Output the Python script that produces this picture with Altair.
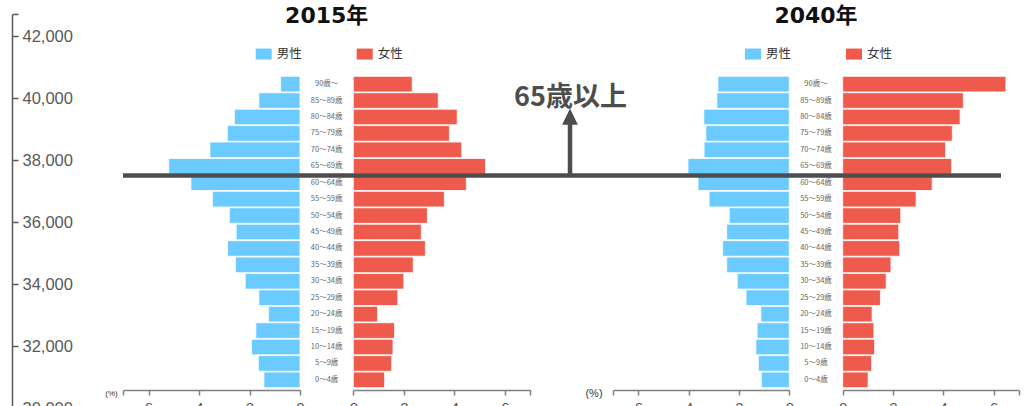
import altair as alt
import pandas as pd

# ---------------- data ----------------
AGES = ["0～4歳", "5～9歳", "10～14歳", "15～19歳", "20～24歳", "25～29歳",
        "30～34歳", "35～39歳", "40～44歳", "45～49歳", "50～54歳", "55～59歳",
        "60～64歳", "65～69歳", "70～74歳", "75～79歳", "80～84歳", "85～89歳",
        "90歳～"]
MALE_2015 = [1.43, 1.65, 1.92, 1.75, 1.25, 1.63, 2.17, 2.56, 2.87, 2.53,
             2.80, 3.47, 4.32, 5.20, 3.57, 2.88, 2.60, 1.63, 0.77]
FEMALE_2015 = [1.24, 1.52, 1.57, 1.63, 0.96, 1.76, 2.00, 2.37, 2.85, 2.69,
               2.93, 3.60, 4.47, 5.23, 4.29, 3.80, 4.11, 3.36, 2.33]
MALE_2040 = [1.11, 1.23, 1.33, 1.28, 1.13, 1.72, 2.07, 2.49, 2.65, 2.49,
             2.39, 3.19, 3.63, 4.03, 3.39, 3.32, 3.40, 2.88, 2.84]
FEMALE_2040 = [1.01, 1.15, 1.27, 1.24, 1.17, 1.50, 1.73, 1.92, 2.27, 2.23,
               2.31, 2.92, 3.56, 4.33, 4.09, 4.36, 4.67, 4.80, 6.49]
SEXES = ["男性", "女性"]
YEARS = ["2015年", "2040年"]
PCT_TICKS = [0, 2, 4, 6]
LEFT_TICKS = [30000, 32000, 34000, 36000, 38000, 40000, 42000]
SENIOR_LABEL = "65歳以上"
SENIOR_LINE = 37500
ARROW_SHAFT_TOP = 39300
ARROW_HEAD = 39394
SENIOR_TEXT_AT = 40000
PCT_UNIT = "(%)"

# ---------------- styles / layout ----------------
BLUE = "#6CCBFE"
RED = "#EE5B4C"
DARK = "#4D4D4D"
AXIS_GRAY = "#595959"
JP = "Noto Sans CJK JP"
L = 12  # left padding: the left axis line sits at the plot's left edge

rows = []
for year, male, female in [(YEARS[0], MALE_2015, FEMALE_2015),
                           (YEARS[1], MALE_2040, FEMALE_2040)]:
    for age, m, f in zip(AGES, male, female):
        rows.append({"year": year, "sex": SEXES[0], "age": age, "value": m})
        rows.append({"year": year, "sex": SEXES[1], "age": age, "value": f})
df = pd.DataFrame(rows)

AGE_ORDER = AGES[::-1]


def pct_axis():
    return alt.Axis(orient="bottom", values=PCT_TICKS + [7],
                    labelExpr="datum.value > 6.5 ? '' : datum.label",
                    title=None, grid=False, domainColor="#7F7F7F", domainWidth=1.5,
                    tickColor="#7F7F7F", tickWidth=1.5, tickSize=5,
                    labelFontSize=15, labelColor=AXIS_GRAY, labelPadding=5,
                    labelFont="Liberation Sans", labelFlush=False, labelOverlap=False)


def pyramid(year, center, male_rng, female_rng, legend_x, pct_x, pct_size):
    base = alt.Chart(df).transform_filter(alt.datum.year == year)
    yenc = alt.Y("age:N", scale=alt.Scale(domain=AGE_ORDER, range=[76, 388],
                                          paddingInner=0.05, paddingOuter=0.02),
                 axis=None)
    color = alt.Color("sex:N", scale=alt.Scale(domain=SEXES, range=[BLUE, RED]),
                      legend=alt.Legend(orient="none", legendX=legend_x - L, legendY=45.8,
                                        direction="horizontal", title=None,
                                        symbolType="M-1,-0.69H1V0.69H-1Z",
                                        symbolSize=256, symbolStrokeWidth=0,
                                        symbolOpacity=1,
                                        labelFontSize=12.5, labelFont=JP,
                                        labelColor="#333333", labelOffset=5,
                                        columnPadding=54, padding=0))

    def half(sex, rng):
        return base.transform_filter(alt.datum.sex == sex).mark_bar(
            stroke="white", strokeWidth=0.8, opacity=1
        ).encode(
            x=alt.X("value:Q", scale=alt.Scale(domain=[0, 7],
                                               range=[rng[0] - L, rng[1] - L],
                                               nice=False, zero=True),
                    axis=pct_axis()),
            y=yenc,
            color=color,
        )

    male = half(SEXES[0], male_rng)
    female = half(SEXES[1], female_rng)
    labels = base.transform_filter(alt.datum.sex == SEXES[0]).mark_text(
        font=JP, fontSize=7.5, color="#666666"
    ).encode(y=yenc, x=alt.value(center - L), text="age:N")
    title = alt.Chart(pd.DataFrame({"t": [year]})).mark_text(
        font="DejaVu Sans, Noto Sans CJK JP", fontSize=22, fontWeight="bold",
        color="#111111"
    ).encode(x=alt.value(center - L), y=alt.value(15.5), text="t:N")
    pct = alt.Chart(pd.DataFrame({"t": [PCT_UNIT]})).mark_text(
        font="Liberation Sans", fontSize=pct_size, color="#333333"
    ).encode(x=alt.value(pct_x - L), y=alt.value(393.5), text="t:N")
    return alt.layer(male, female, labels, title, pct).resolve_scale(x="independent")


p15 = pyramid(YEARS[0], 326.7, [300, 123.3], [353.3, 530.3], 255.7, 111.5, 8)
p40 = pyramid(YEARS[1], 816.0, [789.3, 613.3], [842.7, 1018.7], 745.0, 594.0, 11)


# ------------- left axis + 65歳以上 annotation -------------
def yv():
    return alt.Scale(domain=[28000, 42700], range=[470.0, 14.3], nice=False, zero=False)


left_axis = alt.Axis(orient="left", values=LEFT_TICKS + [42700],
                     labelExpr="datum.value > 42500 ? '' : format(datum.value, ',')",
                     title=None, grid=False, domainColor=AXIS_GRAY, domainWidth=1.5,
                     tickColor=AXIS_GRAY, tickWidth=1.5, tickSize={"expr": "-6"},
                     labelAlign="left", labelPadding=-4,
                     labelFontSize=16.5, labelColor=AXIS_GRAY,
                     labelFont="Liberation Sans", labelOverlap=False, labelFlush=False)

hline = alt.Chart(pd.DataFrame({"v": [SENIOR_LINE]})).mark_rule(
    color=DARK, strokeWidth=4.5
).encode(y=alt.Y("v:Q", scale=yv(), axis=left_axis),
         x=alt.value(123 - L), x2=alt.value(1001 - L))

shaft = alt.Chart(pd.DataFrame({"a": [SENIOR_LINE], "b": [ARROW_SHAFT_TOP]})).mark_rule(
    color=DARK, strokeWidth=4.5
).encode(x=alt.value(570 - L), y=alt.Y("a:Q", scale=yv(), axis=None), y2="b:Q")

head = alt.Chart(pd.DataFrame({"h": [ARROW_HEAD]})).mark_point(
    shape="M0,-1.06L1,1L-1,1Z", filled=True, size=250, color=DARK, opacity=1
).encode(x=alt.value(570 - L), y=alt.Y("h:Q", scale=yv(), axis=None))

senior_text = alt.Chart(pd.DataFrame({"t": [SENIOR_LABEL], "v": [SENIOR_TEXT_AT]})).mark_text(
    font=JP, fontSize=27, fontWeight="bold", color=DARK
).encode(x=alt.value(570.5 - L), y=alt.Y("v:Q", scale=yv(), axis=None), text="t:N")

chart = alt.layer(p15, p40, hline, shaft, head, senior_text).resolve_scale(
    x="independent", y="independent", color="independent"
).properties(
    width=1025 - L, height=390,
    padding={"left": L, "top": 0, "right": 0, "bottom": 16},
    autosize=alt.AutoSizeParams(type="none"),
    background="white",
).configure_view(stroke=None)

chart.save("out.html", embed_options={"renderer": "svg", "actions": False})
